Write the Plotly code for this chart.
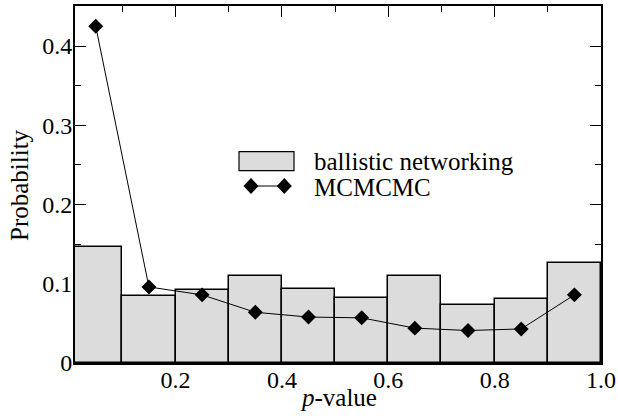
import plotly.graph_objects as go

bin_centers = [0.05, 0.15, 0.25, 0.35, 0.45, 0.55, 0.65, 0.75, 0.85, 0.95]
ballistic = [0.146, 0.085, 0.092, 0.110, 0.093, 0.082, 0.110, 0.073, 0.081, 0.126]
mcmcmc = [0.425, 0.096, 0.086, 0.064, 0.058, 0.057, 0.044, 0.041, 0.043, 0.086]
x_ticks = [0.2, 0.4, 0.6, 0.8, 1.0]
x_ticktext = ["0.2", "0.4", "0.6", "0.8", "1.0"]
y_ticks = [0, 0.1, 0.2, 0.3, 0.4]
y_ticktext = ["0", "0.1", "0.2", "0.3", "0.4"]
legend_labels = ["ballistic networking", "MCMCMC"]
x_title = "<i>p</i>-value"
y_title = "Probability"

FONT = "Liberation Serif, Times New Roman, Times, serif"

fig = go.Figure()
fig.add_trace(go.Bar(
    x=bin_centers, y=ballistic, width=0.1,
    marker=dict(color="#dcdcdc", line=dict(color="black", width=1.5)),
    showlegend=False,
))
fig.add_trace(go.Scatter(
    x=bin_centers, y=mcmcmc, mode="lines+markers",
    line=dict(color="black", width=1),
    marker=dict(symbol="diamond", size=11.5, color="black"),
    showlegend=False,
))

W, H = 618, 416
L, R, T, B = 75, 17, 6, 53
pw, ph = W - L - R, H - T - B

def px(x):
    return (x - L) / pw

def py(y):
    return (H - B - y) / ph

shapes = []
# legend: bar swatch
shapes.append(dict(type="rect", xref="paper", yref="paper",
                   x0=px(239), x1=px(294), y0=py(170.7), y1=py(151.7),
                   fillcolor="#dcdcdc", line=dict(color="black", width=1.2)))
# legend: line + diamonds
ly = 186
shapes.append(dict(type="line", xref="paper", yref="paper",
                   x0=px(251), x1=px(284.3), y0=py(ly), y1=py(ly),
                   line=dict(color="black", width=1)))
for cx in (251, 284.3):
    hw, hh = 7.5, 8
    path = (f"M {px(cx - hw)} {py(ly)} L {px(cx)} {py(ly - hh)} "
            f"L {px(cx + hw)} {py(ly)} L {px(cx)} {py(ly + hh)} Z")
    shapes.append(dict(type="path", xref="paper", yref="paper", path=path,
                       fillcolor="black", line=dict(color="black", width=0)))

annotations = [
    dict(xref="paper", yref="paper", x=px(312), y=py(161), text=legend_labels[0],
         showarrow=False, xanchor="left", yanchor="middle",
         font=dict(family=FONT, size=25, color="black")),
    dict(xref="paper", yref="paper", x=px(312), y=py(187), text=legend_labels[1],
         showarrow=False, xanchor="left", yanchor="middle",
         font=dict(family=FONT, size=25, color="black")),
    dict(xref="paper", yref="paper", x=px(338), y=py(397), text=x_title,
         showarrow=False, xanchor="center", yanchor="middle",
         font=dict(family=FONT, size=25, color="black")),
    dict(xref="paper", yref="paper", x=px(19), y=py(185), text=y_title,
         showarrow=False, xanchor="center", yanchor="middle", textangle=-90,
         font=dict(family=FONT, size=25, color="black")),
]

fig.update_layout(
    width=W, height=H,
    margin=dict(l=L, r=R, t=T, b=B, autoexpand=False),
    paper_bgcolor="white", plot_bgcolor="white",
    font=dict(family=FONT, size=24, color="black"),
    shapes=shapes, annotations=annotations,
    bargap=0,
)
fig.update_xaxes(
    range=[0.011, 1.0], automargin=False,
    tickvals=x_ticks, ticktext=x_ticktext,
    ticks="inside", ticklen=11, tickwidth=1.2, tickcolor="black",
    minor=dict(dtick=0.1, tick0=0, ticks="inside", ticklen=6, tickwidth=1.2, tickcolor="black"),
    showline=True, linecolor="black", linewidth=1.8, mirror="ticks",
    showgrid=False, zeroline=False, layer="below traces",
    ticklabelstandoff=-6,
    tickfont=dict(family=FONT, size=24),
)
fig.update_yaxes(
    range=[0, 0.4506], automargin=False,
    tickvals=y_ticks, ticktext=y_ticktext,
    ticks="inside", ticklen=11, tickwidth=1.2, tickcolor="black",
    minor=dict(dtick=0.05, tick0=0, ticks="inside", ticklen=6, tickwidth=1.2, tickcolor="black"),
    showline=True, linecolor="black", linewidth=1.8, mirror="ticks",
    showgrid=False, zeroline=False, layer="below traces",
    ticklabelstandoff=-4,
    tickfont=dict(family=FONT, size=24),
)

fig.write_html("out.html")
